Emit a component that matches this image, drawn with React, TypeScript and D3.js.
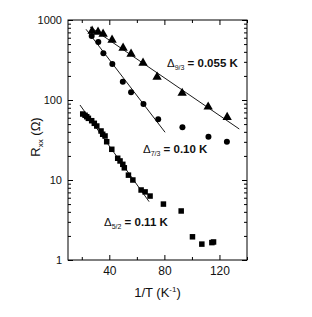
import React, { useEffect, useRef } from "react";
import * as d3 from "d3";

// 1/T (K^-1) and Rxx (Ohm)
const triX = [27.5, 31.8, 35.5, 42, 50, 55.8, 64.5, 74.7, 92.9, 111.8, 125.6];
const triY = [729, 708, 668, 562, 447, 376, 290, 194, 122, 82, 61];

const circX = [27.2, 32.0, 35.7, 42.2, 49.8, 55.8, 64.8, 75.5, 93.1, 112.0, 125.4];
const circY = [631, 531, 383, 282, 169, 125, 89, 57.4, 45.6, 34.8, 30.1];

const sqX = [20.7, 22.4, 23.6, 24.8, 27.2, 29.1, 30.9, 34.0, 35.2, 36.9, 38.1, 41.8, 46.1, 47.8, 49.8, 50.9, 53.9, 57.1, 63.1, 66.0, 69.6, 79.3, 92.2, 100.4, 107.2, 114.5, 115.7];
const sqY = [66.8, 64.4, 61.8, 59.0, 55.1, 51.1, 47.3, 41.0, 37.3, 35.5, 30.1, 24.2, 18.7, 17.3, 15.7, 14.2, 11.5, 10.0, 7.5, 7.1, 6.3, 5.0, 4.1, 1.95, 1.58, 1.65, 1.68];

// activation fits (end points)
const fit93X = [26, 134.4];
const fit93Y = [818, 43.4];
const fit73X = [23.1, 80.5];
const fit73Y = [765, 39.5];
const fit52X = [18.7, 68.9];
const fit52Y = [86.6, 5.36];

const xMajor = [40, 80, 120];
const xMinor = [20, 60, 100, 140];
const yMajor = [1, 10, 100, 1000];

const W = 312, H = 317;
const margin = { top: 20, right: 65, bottom: 57, left: 68 };

export default function App() {
  const ref = useRef<SVGSVGElement>(null);

  useEffect(() => {
    document.body.style.margin = "0";
    const svg = d3.select(ref.current);
    svg.selectAll("*").remove();

    const width = W - margin.left - margin.right;
    const height = H - margin.top - margin.bottom;

    const x = d3.scaleLinear().domain([10, 140]).range([0, width]);
    const y = d3.scaleLog().domain([1, 1000]).range([height, 0]);

    const g = svg.append("g")
      .attr("transform", "translate(" + margin.left + "," + margin.top + ")");

    const yMinor: number[] = [];
    [1, 10, 100].forEach(d => { for (let k = 2; k < 10; k++) yMinor.push(d * k); });

    // bottom axis
    g.append("g")
      .attr("transform", "translate(0," + height + ")")
      .call(d3.axisBottom(x).tickValues(xMajor).tickSize(-5).tickPadding(6).tickFormat(d3.format("d")))
      .call(a => a.selectAll("text").attr("font-size", 12));
    g.append("g")
      .attr("transform", "translate(0," + height + ")")
      .call(d3.axisBottom(x).tickValues(xMinor).tickSize(-3).tickFormat(() => ""));
    // top axis
    g.append("g")
      .call(d3.axisTop(x).tickValues(xMajor).tickSize(-5).tickFormat(() => ""));
    g.append("g")
      .call(d3.axisTop(x).tickValues(xMinor).tickSize(-3).tickFormat(() => ""));
    // left axis
    g.append("g")
      .call(d3.axisLeft(y).tickValues(yMajor).tickSize(-5).tickPadding(6).tickFormat(d3.format("d")))
      .call(a => a.selectAll("text").attr("font-size", 11));
    g.append("g")
      .call(d3.axisLeft(y).tickValues(yMinor).tickSize(-3).tickFormat(() => ""));
    // right axis
    g.append("g")
      .attr("transform", "translate(" + width + ",0)")
      .call(d3.axisRight(y).tickValues(yMajor).tickSize(-5).tickFormat(() => ""));
    g.append("g")
      .attr("transform", "translate(" + width + ",0)")
      .call(d3.axisRight(y).tickValues(yMinor).tickSize(-3).tickFormat(() => ""));

    g.selectAll(".domain").remove();
    g.selectAll("text").attr("font-family", "Liberation Sans, Arial, sans-serif").attr("fill", "#111");

    g.append("rect")
      .attr("width", width).attr("height", height)
      .attr("fill", "none").attr("stroke", "#000").attr("stroke-width", 1);

    // fit lines
    const line = d3.line<[number, number]>().x(d => x(d[0])).y(d => y(d[1]));
    [[fit93X, fit93Y], [fit73X, fit73Y], [fit52X, fit52Y]].forEach(([fx, fy]) => {
      g.append("path")
        .datum(fx.map((v, i) => [v, fy[i]] as [number, number]))
        .attr("fill", "none").attr("stroke", "#000").attr("stroke-width", 0.9)
        .attr("d", line);
    });

    // data points
    g.append("g").selectAll("path")
      .data(triX.map((v, i) => [v, triY[i]]))
      .enter().append("path")
      .attr("transform", d => "translate(" + x(d[0]) + "," + y(d[1]) + ")")
      .attr("d", d3.symbol(d3.symbolTriangle, 38)())
      .attr("fill", "#000");
    g.append("g").selectAll("circle")
      .data(circX.map((v, i) => [v, circY[i]]))
      .enter().append("circle")
      .attr("cx", d => x(d[0])).attr("cy", d => y(d[1]))
      .attr("r", 3).attr("fill", "#000");
    g.append("g").selectAll("rect")
      .data(sqX.map((v, i) => [v, sqY[i]]))
      .enter().append("rect")
      .attr("x", d => x(d[0]) - 2.75).attr("y", d => y(d[1]) - 2.75)
      .attr("width", 5.5).attr("height", 5.5).attr("fill", "#000");

    // gap labels
    const gaps = [
      { sub: "9/3", val: " = 0.055 K", px: 167, py: 67 },
      { sub: "7/3", val: " = 0.10 K", px: 143, py: 153 },
      { sub: "5/2", val: " = 0.11 K", px: 104, py: 226 },
    ];
    gaps.forEach(d => {
      const t = svg.append("text")
        .attr("x", d.px).attr("y", d.py)
        .attr("font-family", "Liberation Sans, Arial, sans-serif")
        .attr("font-size", 11.5).attr("fill", "#111");
      t.append("tspan").text("Δ");
      t.append("tspan").attr("font-size", 7).attr("dy", 3).text(d.sub);
      t.append("tspan").attr("dy", -3).attr("font-weight", "bold").text(d.val);
    });

    // axis titles
    const xt = svg.append("text")
      .attr("x", margin.left + width / 2).attr("y", 297)
      .attr("text-anchor", "middle")
      .attr("font-family", "Liberation Sans, Arial, sans-serif")
      .attr("font-size", 13).attr("fill", "#111");
    xt.append("tspan").text("1/T (K");
    xt.append("tspan").attr("font-size", 8).attr("dy", -5).text("-1");
    xt.append("tspan").attr("dy", 5).text(")");

    const yt = svg.append("text")
      .attr("transform", "translate(40,137) rotate(-90)")
      .attr("text-anchor", "middle")
      .attr("font-family", "Liberation Sans, Arial, sans-serif")
      .attr("font-size", 13).attr("fill", "#111");
    yt.append("tspan").text("R");
    yt.append("tspan").attr("font-size", 8).attr("dy", 3).text("xx");
    yt.append("tspan").attr("dy", -3).text(" (Ω)");
  }, []);

  return <svg ref={ref} width={W} height={H} style={{ display: "block", background: "#fff" }} />;
}
